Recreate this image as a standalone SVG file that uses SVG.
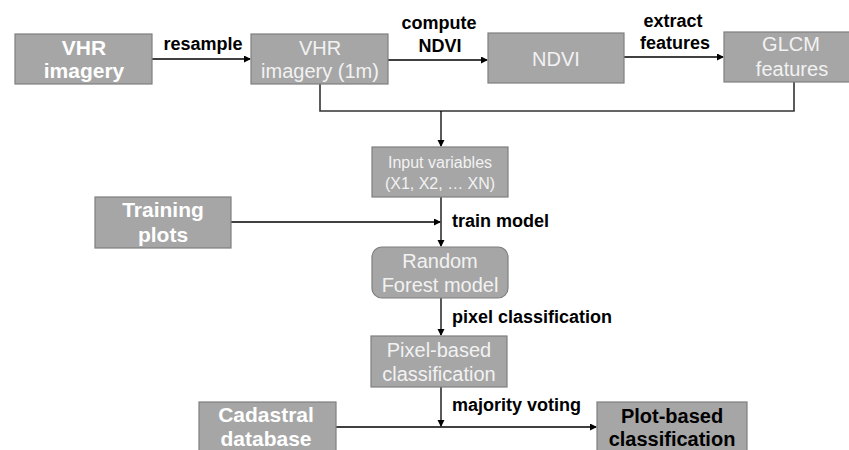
<svg xmlns="http://www.w3.org/2000/svg" width="849" height="450" viewBox="0 0 849 450">
<style>
.box{fill:#a6a6a6;stroke:#7f7f7f;stroke-width:1.2}
.t{font-family:"Liberation Sans",Arial,sans-serif;text-anchor:middle}
.nb{font-size:21px;font-weight:bold;fill:#ffffff}
.nr{font-size:20px;fill:#f2f2f2}
.ns{font-size:16px;fill:#f2f2f2}
.pb{font-size:20px;font-weight:bold;fill:#000000}
.lb{font-family:"Liberation Sans",Arial,sans-serif;font-size:18px;font-weight:bold;fill:#000000}
.c{fill:none;stroke:#000000;stroke-width:1.3}
.k{fill:none;stroke:#333333;stroke-width:1.6}
</style>
<defs>
<marker id="ah" markerWidth="8" markerHeight="8" refX="6" refY="3.5" orient="auto" markerUnits="userSpaceOnUse">
<path d="M0,0 L7,3.5 L0,7 Z" fill="#000000"/>
</marker>
</defs>
<rect width="849" height="450" fill="#ffffff"/>
<g id="connectors">
<line class="c" x1="152" y1="59" x2="250" y2="59" marker-end="url(#ah)"/>
<line class="c" x1="388" y1="60" x2="487" y2="60" marker-end="url(#ah)"/>
<line class="c" x1="624" y1="57" x2="723" y2="57" marker-end="url(#ah)"/>
<polyline class="k" points="320,84 320,111 794,111 794,82"/>
<line class="c" x1="441" y1="111" x2="441" y2="146" marker-end="url(#ah)"/>
<line class="c" x1="231" y1="222" x2="440" y2="222" marker-end="url(#ah)"/>
<line class="c" x1="441" y1="197" x2="441" y2="246" marker-end="url(#ah)"/>
<line class="c" x1="441" y1="298" x2="441" y2="335" marker-end="url(#ah)"/>
<line class="c" x1="441" y1="387" x2="441" y2="426" marker-end="url(#ah)"/>
<line class="c" x1="336" y1="427" x2="596" y2="427" marker-end="url(#ah)"/>
<text class="lb" x="203" y="50" text-anchor="middle">resample</text>
<text class="lb" x="439" y="29" text-anchor="middle">compute</text>
<text class="lb" x="440" y="52" text-anchor="middle">NDVI</text>
<text class="lb" x="673" y="27" text-anchor="middle">extract</text>
<text class="lb" x="675" y="49" text-anchor="middle">features</text>
<text class="lb" x="452" y="227">train model</text>
<text class="lb" x="452" y="323">pixel classification</text>
<text class="lb" x="452" y="411">majority voting</text>
</g>
<g id="vhr-imagery">
<rect class="box" x="15" y="34" width="137" height="50"/>
<text class="t nb" x="84" y="55">VHR</text>
<text class="t nb" x="84" y="78">imagery</text>
</g>
<g id="vhr-imagery-1m">
<rect class="box" x="251" y="34" width="137" height="50"/>
<text class="t nr" x="320" y="55">VHR</text>
<text class="t nr" x="320" y="78">imagery (1m)</text>
</g>
<g id="ndvi">
<rect class="box" x="488" y="33" width="136" height="50"/>
<text class="t nr" x="556" y="66">NDVI</text>
</g>
<g id="glcm-features">
<rect class="box" x="724" y="32" width="136" height="50"/>
<text class="t nr" x="791" y="51">GLCM</text>
<text class="t nr" x="792" y="76">features</text>
</g>
<g id="input-variables">
<rect class="box" x="372" y="147" width="136" height="50"/>
<text class="t ns" x="440" y="168">Input variables</text>
<text class="t ns" x="440" y="189">(X1, X2, … XN)</text>
</g>
<g id="training-plots">
<rect class="box" x="95" y="197" width="136" height="51"/>
<text class="t nb" x="163" y="217">Training</text>
<text class="t nb" x="163" y="242">plots</text>
</g>
<g id="random-forest-model">
<rect class="box" x="372" y="247" width="136" height="51" rx="10" ry="10"/>
<text class="t nr" x="440" y="268">Random</text>
<text class="t nr" x="440" y="292">Forest model</text>
</g>
<g id="pixel-based-classification">
<rect class="box" x="371" y="336" width="136" height="51"/>
<text class="t nr" x="439" y="357">Pixel-based</text>
<text class="t nr" x="439" y="381">classification</text>
</g>
<g id="cadastral-database">
<rect class="box" x="199" y="402" width="137" height="60"/>
<text class="t nb" x="266" y="422">Cadastral</text>
<text class="t nb" x="266" y="446">database</text>
</g>
<g id="plot-based-classification">
<rect class="box" x="597" y="402" width="150" height="60"/>
<text class="t pb" x="672" y="423">Plot-based</text>
<text class="t pb" x="672" y="446">classification</text>
</g>
</svg>
